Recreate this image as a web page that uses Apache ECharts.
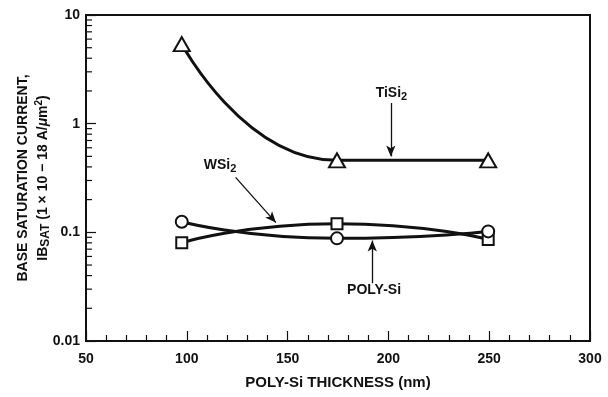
<!DOCTYPE html>
<html>
<head>
<meta charset="utf-8">
<script src="https://cdn.jsdelivr.net/npm/echarts@6/dist/echarts.min.js"></script>
<style>
  html, body { margin: 0; padding: 0; background: #fff; }
  #chart { width: 608px; height: 397px; }
</style>
</head>
<body>
<div id="chart"></div>
<script>
// Poly-Si thickness of the measured emitters (nm)
const thickness = [97.5, 174.5, 249.5];
// Base saturation current, in units of 1e-18 A/um^2
const tisi2 = [5.4, 0.46, 0.46];
const wsi2 = [0.08, 0.12, 0.086];
const polySi = [0.125, 0.088, 0.102];

// Axis ticks
const xTicks = [50, 100, 150, 200, 250, 300];
const yTicks = [0.01, 0.1, 1, 10];
const yTickLabels = ['0.01', '0.1', '1', '10'];
const yMinorTicks = [
  0.02, 0.03, 0.04, 0.05, 0.06, 0.07, 0.08, 0.09,
  0.2, 0.3, 0.4, 0.5, 0.6, 0.7, 0.8, 0.9,
  2, 3, 4, 5, 6, 7, 8, 9
];

// Curve labels and their pointer arrows, in data units
const tisi2Label = [201.5, 1.9];
const tisi2Arrow = [[201.2, 1.55], [201.2, 0.5]];
const wsi2Label = [116.5, 0.415];
const wsi2Arrow = [[124.2, 0.32], [144.2, 0.123]];
const polyLabel = [192.9, 0.0295];
const polyArrow = [[192.0, 0.034], [192.0, 0.084]];

const INK = '#111';
const FONT = '"Liberation Sans", Arial, Helvetica, sans-serif';

const chart = echarts.init(document.getElementById('chart'), null, { renderer: 'canvas' });

const pairs = (xs, ys) => xs.map((x, i) => [x, ys[i]]);

const labelRich = {
  m: { fontFamily: FONT, fontWeight: 'bold', fontSize: 14, color: INK, lineHeight: 18 },
  s: { fontFamily: FONT, fontWeight: 'bold', fontSize: 11, color: INK, lineHeight: 18, padding: [8, 0, 0, 0] }
};

function curveLabel(coord, text) {
  return {
    symbol: 'circle',
    symbolSize: 0,
    silent: true,
    label: { show: true, position: 'inside', formatter: text, rich: labelRich },
    data: [{ coord: coord }]
  };
}

function pointer(seg) {
  return {
    silent: true,
    symbol: ['none', 'arrow'],
    symbolSize: [7, 11],
    lineStyle: { color: INK, width: 1.3, type: 'solid' },
    label: { show: false },
    emphasis: { disabled: true },
    data: [[{ coord: seg[0] }, { coord: seg[1] }]]
  };
}

function curve(name, ys, symbol, size, smooth) {
  return {
    name: name,
    type: 'line',
    data: pairs(thickness, ys),
    smooth: smooth,
    smoothMonotone: 'x',
    symbol: symbol,
    symbolSize: size,
    showAllSymbol: true,
    lineStyle: { color: INK, width: 3 },
    itemStyle: { color: '#fff', borderColor: INK, borderWidth: 2 },
    z: 3
  };
}

const tisiSeries = curve('TiSi2', tisi2, 'triangle', [16, 14], 0.6);
tisiSeries.markPoint = curveLabel(tisi2Label, '{m|TiSi}{s|2}');
tisiSeries.markLine = pointer(tisi2Arrow);

const wsiSeries = curve('WSi2', wsi2, 'rect', 11, 0.6);
wsiSeries.markPoint = curveLabel(wsi2Label, '{m|WSi}{s|2}');
wsiSeries.markLine = pointer(wsi2Arrow);

const polySeries = curve('POLY-Si', polySi, 'circle', 12, 0.6);
polySeries.markPoint = curveLabel(polyLabel, '{m|POLY-Si}');
polySeries.markLine = pointer(polyArrow);

// Log-axis minor ticks (2..9 in every decade), drawn inward from the left axis
const minorTickSeries = {
  type: 'custom',
  silent: true,
  clip: false,
  z: 4,
  data: yMinorTicks.map(v => [xTicks[0], v]),
  renderItem: function (params, api) {
    const p = api.coord([api.value(0), api.value(1)]);
    return {
      type: 'line',
      shape: { x1: p[0], y1: p[1], x2: p[0] + 6, y2: p[1] },
      style: { stroke: INK, lineWidth: 1.2 }
    };
  }
};

const option = {
  animation: false,
  backgroundColor: '#fff',
  grid: {
    left: 86, right: 18, top: 15, bottom: 56,
    outerBoundsMode: 'none',
    containLabel: false,
    show: true, borderColor: INK, borderWidth: 2, backgroundColor: 'transparent'
  },
  xAxis: {
    type: 'value',
    min: xTicks[0],
    max: xTicks[xTicks.length - 1],
    interval: 50,
    name: 'POLY-Si THICKNESS (nm)',
    nameLocation: 'middle',
    nameGap: 34,
    nameMoveOverlap: false,
    nameTextStyle: { fontFamily: FONT, fontWeight: 'bold', fontSize: 15, color: INK },
    axisLine: { show: true, lineStyle: { color: INK, width: 2 } },
    axisTick: { show: true, inside: true, length: 10, lineStyle: { color: INK, width: 1.2 } },
    minorTick: { show: true, splitNumber: 5, length: 6, lineStyle: { color: INK, width: 1.2 } },
    axisLabel: { fontFamily: FONT, fontWeight: 'bold', fontSize: 14, color: INK, margin: 11 },
    splitLine: { show: false },
    minorSplitLine: { show: false }
  },
  yAxis: {
    type: 'log',
    logBase: 10,
    min: yTicks[0],
    max: yTicks[yTicks.length - 1],
    splitNumber: 3,
    name: '{m|BASE SATURATION CURRENT,}\n{m|IB}{s|SAT}{m| (1 × 10 − 18 A/}{mu|μ}{m|m}{p|2}{m|)}',
    nameLocation: 'middle',
    nameRotate: 90,
    nameGap: 33,
    nameMoveOverlap: false,
    nameTextStyle: {
      fontFamily: FONT, fontWeight: 'bold', fontSize: 14, color: INK, lineHeight: 20,
      rich: {
        m: { fontFamily: FONT, fontWeight: 'bold', fontSize: 14, color: INK, lineHeight: 20 },
        s: { fontFamily: FONT, fontWeight: 'bold', fontSize: 12, color: INK, lineHeight: 20, padding: [6, 0, 0, 0] },
        mu: { fontFamily: FONT, fontWeight: 'bold', fontStyle: 'italic', fontSize: 14, color: INK, lineHeight: 20 },
        p: { fontFamily: FONT, fontWeight: 'bold', fontSize: 10, color: INK, lineHeight: 20, padding: [0, 0, 8, 0] }
      }
    },
    axisLine: { show: true, lineStyle: { color: INK, width: 2 } },
    axisTick: { show: true, inside: true, length: 10, lineStyle: { color: INK, width: 1.2 } },
    minorTick: { show: false },
    axisLabel: {
      fontFamily: FONT, fontWeight: 'bold', fontSize: 14, color: INK, margin: 6,
      formatter: function (v) {
        let best = 0;
        yTicks.forEach((t, i) => {
          if (Math.abs(Math.log10(t) - Math.log10(v)) < Math.abs(Math.log10(yTicks[best]) - Math.log10(v))) best = i;
        });
        return yTickLabels[best];
      }
    },
    splitLine: { show: false }
  },
  series: [tisiSeries, wsiSeries, polySeries, minorTickSeries]
};

chart.setOption(option);
</script>
</body>
</html>
